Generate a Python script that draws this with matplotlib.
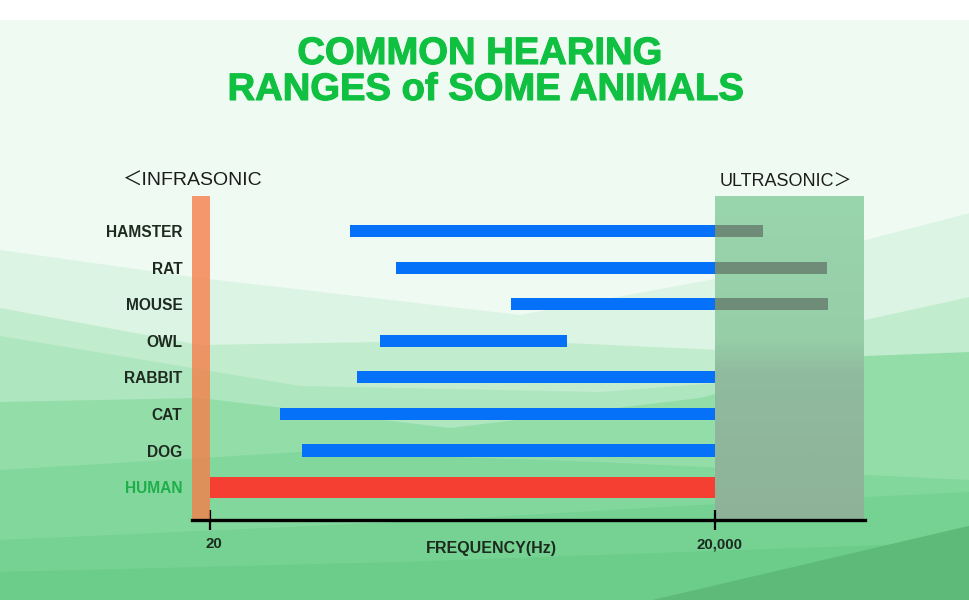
import numpy as np
import matplotlib.pyplot as plt
import matplotlib.patheffects as pe
from matplotlib.colors import to_rgb
from matplotlib.transforms import ScaledTranslation

# hearing ranges (Hz), bottom row first
ANIMALS = ["HUMAN", "DOG", "CAT", "RABBIT", "OWL", "MOUSE", "RAT", "HAMSTER"]
LOW_HZ = [20, 70, 52, 150, 205, 1230, 255, 136]
HIGH_HZ = [20000, 20000, 20000, 20000, 2640, 93800, 92500, 38500]

INFRA_LIMIT = 20
ULTRA_LIMIT = 20000
XLIM = (15.6, 155700)
TICKS = [20, 20000]
TICK_LABELS = ["20", "20,000"]

W, H = 970, 600
FONT = ["Liberation Sans", "Noto Sans CJK SC", "DejaVu Sans"]
plt.rcParams["font.family"] = FONT


def ramp(knots, colors, n):
    """vertical colour ramp, knots in 0..1"""
    rgb = np.array([to_rgb(c) for c in colors])
    tt = np.linspace(0, 1, n)
    return np.stack([np.interp(tt, knots, rgb[:, k]) for k in range(3)], axis=-1)


fig = plt.figure(figsize=(W / 100, H / 100), dpi=100, facecolor="white")

# ---- background: layered low-poly bands (pixel coordinates) ----
bg = fig.add_axes([0, 0, 1, 1], zorder=-5)
bg.set_xlim(0, W)
bg.set_ylim(H, 0)
bg.axis("off")
bg.fill_between([0, W], [20, 20], [H, H], color="#eefaf2", lw=0)

layers = [
    ([0, 200, 520, 720, 970], [250, 278, 315, 278, 213], "#dcf4e4"),
    ([0, 200, 500, 720, 865, 970], [308, 345, 340, 350, 320, 297], "#c2ecce"),
    ([0, 300, 600, 865, 970], [336, 386, 392, 372, 360], "#ade6bf"),
    ([0, 200, 450, 700, 865, 970], [402, 398, 428, 398, 356, 352], "#93dda9"),
    ([0, 300, 600, 970], [470, 452, 462, 480], "#82d79d"),
    ([0, 400, 700, 970], [540, 522, 505, 492], "#75d293"),
    ([0, 400, 970], [572, 562, 542], "#6ccc8a"),
    ([650, 970], [600, 525], "#5dba79"),
]
xs = np.linspace(0, W, 300)
for kx, ky, c in layers:
    edge = np.interp(xs, kx, ky)
    mask = xs >= kx[0]
    bg.fill_between(xs[mask], edge[mask], H, color=c, lw=0)

# ---- chart ----
ax = fig.add_axes([192 / W, 80 / H, 673 / W, 324 / H])
ax.patch.set_alpha(0)
ax.set_xscale("log")
ax.set_xlim(*XLIM)
ax.set_ylim(-0.9, 7.96)
ylo, yhi = ax.get_ylim()

# infrasonic band
ax.axvspan(XLIM[0], INFRA_LIMIT, color="#f87c46", alpha=0.78, lw=0, zorder=3)

# ultrasonic box, soft vertical gradient (top row first)
grad = ramp([0, 0.44, 0.55, 1], ["#99d5ad", "#96cea8", "#90bb9e", "#8eb298"], 200)
ax.imshow(grad[:, None, :], extent=[ULTRA_LIMIT, XLIM[1], ylo, yhi], origin="upper",
          aspect="auto", interpolation="bilinear", zorder=1)
ax.set_xlim(*XLIM)
ax.set_ylim(ylo, yhi)

ypos = np.arange(len(ANIMALS))
for y, name, lo, hi in zip(ypos, ANIMALS, LOW_HZ, HIGH_HZ):
    if name == "HUMAN":
        ax.barh(y, hi - lo, left=lo, height=0.57, color="#f43f32", lw=0, zorder=2)
        continue
    top = min(hi, ULTRA_LIMIT)
    ax.barh(y, top - lo, left=lo, height=0.33, color="#0570f8", lw=0, zorder=2)
    if hi > ULTRA_LIMIT:
        ax.barh(y, hi - ULTRA_LIMIT, left=ULTRA_LIMIT, height=0.33,
                color="#6e8c78", lw=0, zorder=2)

for s in ["top", "right", "left"]:
    ax.spines[s].set_visible(False)
ax.spines["bottom"].set_linewidth(2.4)
ax.spines["bottom"].set_zorder(5)

ax.set_xticks(TICKS)
ax.set_xticklabels(TICK_LABELS)
ax.xaxis.set_minor_locator(plt.NullLocator())
ax.tick_params(axis="x", direction="inout", length=15, width=1.6, pad=5,
               labelsize=10.8, labelcolor="#1c2b1e")
shift = ScaledTranslation(4 / 100, 0, fig.dpi_scale_trans)
for lab in ax.get_xticklabels():
    lab.set_fontweight("bold")
    lab.set_transform(lab.get_transform() + shift)

ax.set_yticks(ypos)
ax.set_yticklabels(ANIMALS)
ax.tick_params(axis="y", length=0, pad=7, labelsize=11.2, labelcolor="#1e2a20")
for lab in ax.get_yticklabels():
    lab.set_fontweight("bold")
    if lab.get_text() == "HUMAN":
        lab.set_color("#1fae4a")

# ---- texts ----
heavy = [pe.withStroke(linewidth=0.8, foreground="#10c040")]
fig.text(480 / W, 1 - 64 / H, "COMMON HEARING", ha="center", va="baseline",
         fontsize=27.5, fontweight="bold", color="#10c040", path_effects=heavy)
fig.text(486 / W, 1 - 100 / H, "RANGES of SOME ANIMALS", ha="center", va="baseline",
         fontsize=27.5, fontweight="bold", color="#10c040", path_effects=heavy)
fig.text(123 / W, 1 - 186 / H, "＜INFRASONIC", ha="left", va="baseline",
         fontsize=14, color="#1c1c1c")
fig.text(852 / W, 1 - 187 / H, "ULTRASONIC＞", ha="right", va="baseline",
         fontsize=13, color="#1c1c1c")
fig.text(491 / W, 1 - 548 / H, "FREQUENCY(Hz)", ha="center", va="center",
         fontsize=11.5, fontweight="bold", color="#1c2b1e")

fig.savefig("out.png", dpi=100, facecolor="white")
